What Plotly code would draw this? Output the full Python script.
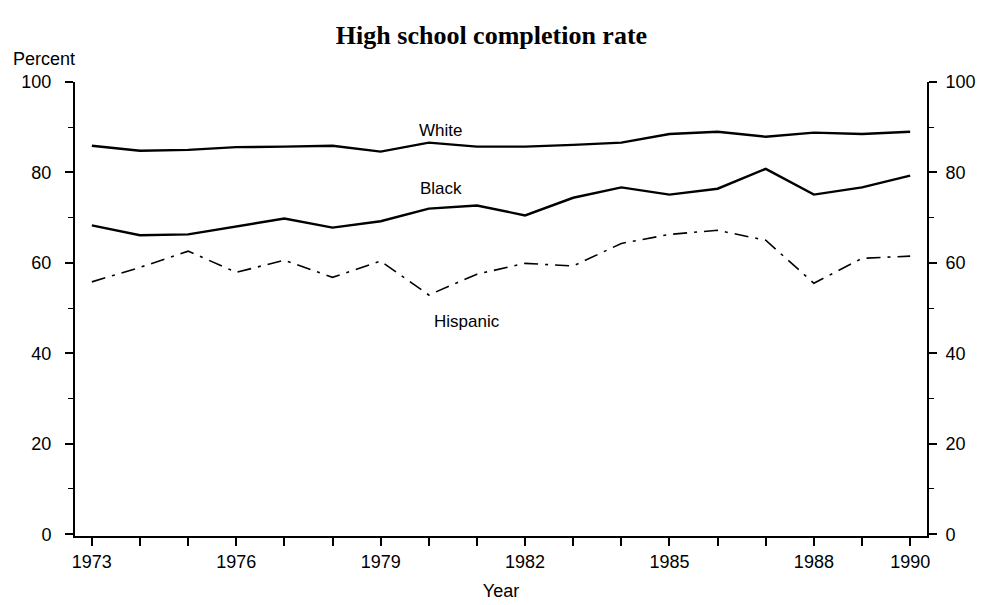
import plotly.graph_objects as go

years = list(range(1973, 1991))
white = [85.9, 84.8, 85.0, 85.6, 85.7, 85.9, 84.6, 86.6, 85.7, 85.7, 86.1, 86.6, 88.5, 89.0, 87.9, 88.8, 88.5, 89.0]
black = [68.3, 66.1, 66.3, 68.0, 69.8, 67.8, 69.2, 72.0, 72.7, 70.5, 74.4, 76.7, 75.1, 76.4, 80.8, 75.1, 76.7, 79.3]
hispanic = [55.8, 59.0, 62.6, 57.9, 60.6, 56.8, 60.4, 52.9, 57.5, 59.9, 59.3, 64.3, 66.3, 67.2, 65.0, 55.5, 61.0, 61.5]

xtick_vals = [1973, 1976, 1979, 1982, 1985, 1988, 1990]
ytick_vals = [0, 20, 40, 60, 80, 100]

FONT = "Liberation Sans"
FS = 18

fig = go.Figure()
fig.add_trace(go.Scatter(x=years, y=white, mode="lines", name="White",
                         line=dict(color="black", width=2.4)))
fig.add_trace(go.Scatter(x=years, y=black, mode="lines", name="Black",
                         line=dict(color="black", width=2.4)))
fig.add_trace(go.Scatter(x=years, y=hispanic, mode="lines", name="Hispanic",
                         line=dict(color="black", width=1.6, dash="14px,7px,3px,7px")))
# invisible trace for right axis
fig.add_trace(go.Scatter(x=years, y=white, mode="lines", yaxis="y2",
                         line=dict(color="rgba(0,0,0,0)"), showlegend=False, hoverinfo="skip"))

fig.add_annotation(x=1980.25, y=89.3, text="White", showarrow=False,
                   font=dict(family=FONT, size=17, color="black"))
fig.add_annotation(x=1980.25, y=76.5, text="Black", showarrow=False,
                   font=dict(family=FONT, size=17, color="black"))
fig.add_annotation(x=1980.8, y=47.0, text="Hispanic", showarrow=False,
                   font=dict(family=FONT, size=17, color="black"))

fig.add_annotation(x=-0.075, xref="paper", y=1.025, yref="paper", text="Percent",
                   showarrow=False, xanchor="left", yanchor="bottom",
                   font=dict(family=FONT, size=FS, color="black"))

yaxis_common = dict(range=[-0.4, 100], tickvals=ytick_vals, ticks="outside", ticklen=8,
                    tickwidth=1.5, tickcolor="black", showline=True, linecolor="black",
                    linewidth=2, showgrid=False, zeroline=False, automargin=False,
                    tickfont=dict(family=FONT, size=FS, color="black"),
                    minor=dict(ticks="outside", dtick=10, tick0=0, ticklen=5,
                               tickcolor="black", tickwidth=1.2, showgrid=False))

fig.update_layout(
    width=983, height=605,
    paper_bgcolor="white", plot_bgcolor="white",
    margin=dict(l=75, r=56, t=82, b=69),
    showlegend=False,
    title=dict(text="<b>High school completion rate</b>", x=0.5, xanchor="center",
               y=0.943, yanchor="middle",
               font=dict(family="Liberation Serif", size=26, color="black")),
    xaxis=dict(range=[1972.65, 1990.35], tickvals=xtick_vals, ticks="outside", ticklen=8,
               tickwidth=1.5, tickcolor="black", showline=True, linecolor="black",
               linewidth=2, showgrid=False, zeroline=False, automargin=False,
               tickfont=dict(family=FONT, size=FS, color="black"),
               minor=dict(ticks="outside", dtick=1, tick0=1973, ticklen=8,
                          tickcolor="black", tickwidth=1.5, showgrid=False),
               title=dict(text="Year", standoff=14, font=dict(family=FONT, size=FS, color="black"))),
    yaxis=dict(side="left", ticklabelstandoff=10, **yaxis_common),
    yaxis2=dict(side="right", overlaying="y", ticklabelstandoff=5, **yaxis_common),
)

fig.write_html("out.html", config={"displayModeBar": False},
               post_script="document.body.style.margin='0';")
